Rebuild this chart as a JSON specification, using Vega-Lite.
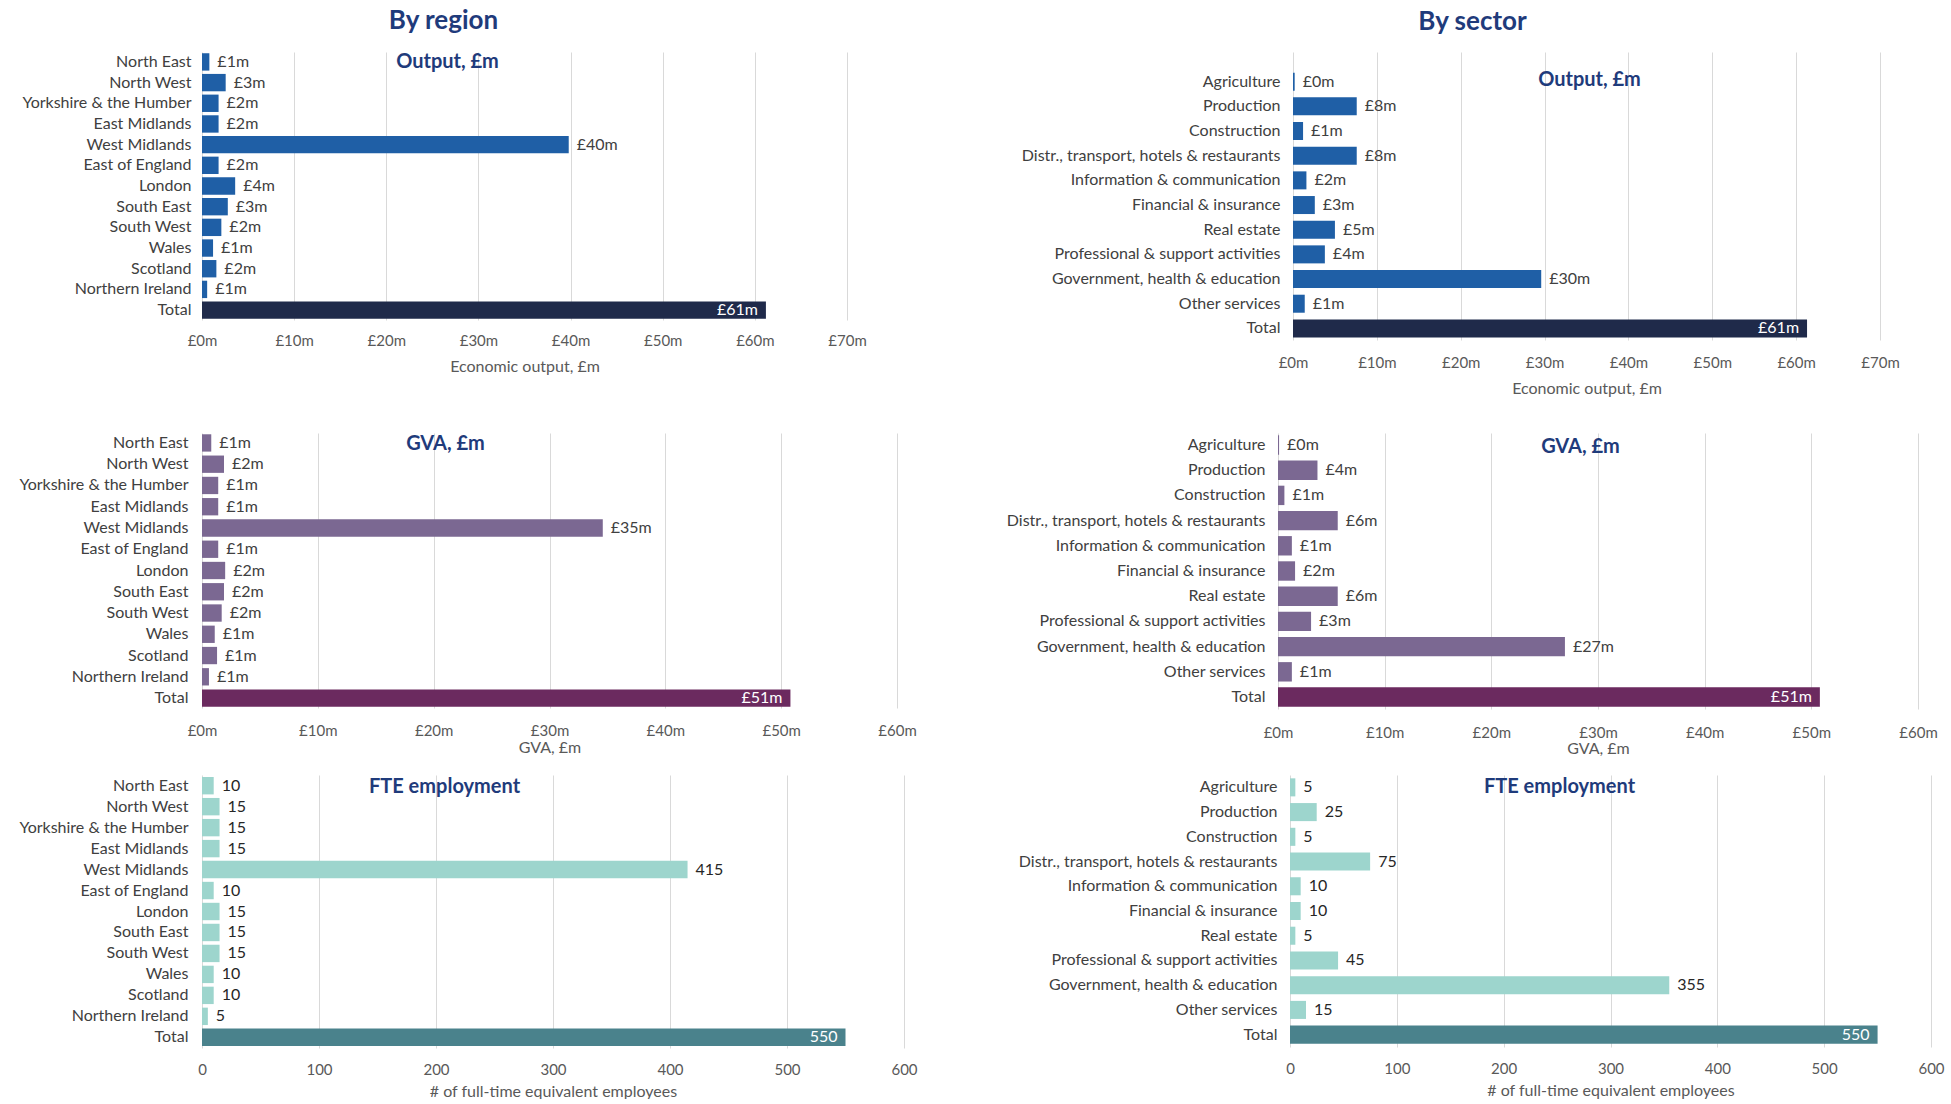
{
  "$schema": "https://vega.github.io/schema/vega-lite/v6.json",
  "padding": {"left": 18, "top": 8, "right": 5, "bottom": 0},
  "background": "white",
  "spacing": 19,
  "bounds": "full",
  "config": {
    "view": {"stroke": null},
    "font": "Lato",
    "axis": {"labelFont": "Lato", "titleFont": "Lato"},
    "title": {"font": "Lato"},
    "text": {"font": "Lato"}
  },
  "datasets": {
    "outReg": [
      {"cat": "North East", "v": 0.8, "lbl": "£1m"},
      {"cat": "North West", "v": 2.57, "lbl": "£3m"},
      {"cat": "Yorkshire & the Humber", "v": 1.8, "lbl": "£2m"},
      {"cat": "East Midlands", "v": 1.8, "lbl": "£2m"},
      {"cat": "West Midlands", "v": 39.8, "lbl": "£40m"},
      {"cat": "East of England", "v": 1.8, "lbl": "£2m"},
      {"cat": "London", "v": 3.6, "lbl": "£4m"},
      {"cat": "South East", "v": 2.8, "lbl": "£3m"},
      {"cat": "South West", "v": 2.1, "lbl": "£2m"},
      {"cat": "Wales", "v": 1.2, "lbl": "£1m"},
      {"cat": "Scotland", "v": 1.56, "lbl": "£2m"},
      {"cat": "Northern Ireland", "v": 0.56, "lbl": "£1m"},
      {"cat": "Total", "v": 61.2, "lbl": "£61m"}
    ],
    "outSec": [
      {"cat": "Agriculture", "v": 0.2, "lbl": "£0m"},
      {"cat": "Production", "v": 7.6, "lbl": "£8m"},
      {"cat": "Construction", "v": 1.2, "lbl": "£1m"},
      {"cat": "Distr., transport, hotels & restaurants", "v": 7.6, "lbl": "£8m"},
      {"cat": "Information & communication", "v": 1.6, "lbl": "£2m"},
      {"cat": "Financial & insurance", "v": 2.6, "lbl": "£3m"},
      {"cat": "Real estate", "v": 5.0, "lbl": "£5m"},
      {"cat": "Professional & support activities", "v": 3.8, "lbl": "£4m"},
      {"cat": "Government, health & education", "v": 29.6, "lbl": "£30m"},
      {"cat": "Other services", "v": 1.4, "lbl": "£1m"},
      {"cat": "Total", "v": 61.3, "lbl": "£61m"}
    ],
    "gvaReg": [
      {"cat": "North East", "v": 0.8, "lbl": "£1m"},
      {"cat": "North West", "v": 1.9, "lbl": "£2m"},
      {"cat": "Yorkshire & the Humber", "v": 1.4, "lbl": "£1m"},
      {"cat": "East Midlands", "v": 1.4, "lbl": "£1m"},
      {"cat": "West Midlands", "v": 34.6, "lbl": "£35m"},
      {"cat": "East of England", "v": 1.4, "lbl": "£1m"},
      {"cat": "London", "v": 2.0, "lbl": "£2m"},
      {"cat": "South East", "v": 1.9, "lbl": "£2m"},
      {"cat": "South West", "v": 1.7, "lbl": "£2m"},
      {"cat": "Wales", "v": 1.1, "lbl": "£1m"},
      {"cat": "Scotland", "v": 1.3, "lbl": "£1m"},
      {"cat": "Northern Ireland", "v": 0.6, "lbl": "£1m"},
      {"cat": "Total", "v": 50.8, "lbl": "£51m"}
    ],
    "gvaSec": [
      {"cat": "Agriculture", "v": 0.1, "lbl": "£0m"},
      {"cat": "Production", "v": 3.7, "lbl": "£4m"},
      {"cat": "Construction", "v": 0.6, "lbl": "£1m"},
      {"cat": "Distr., transport, hotels & restaurants", "v": 5.6, "lbl": "£6m"},
      {"cat": "Information & communication", "v": 1.3, "lbl": "£1m"},
      {"cat": "Financial & insurance", "v": 1.6, "lbl": "£2m"},
      {"cat": "Real estate", "v": 5.6, "lbl": "£6m"},
      {"cat": "Professional & support activities", "v": 3.1, "lbl": "£3m"},
      {"cat": "Government, health & education", "v": 26.9, "lbl": "£27m"},
      {"cat": "Other services", "v": 1.3, "lbl": "£1m"},
      {"cat": "Total", "v": 50.8, "lbl": "£51m"}
    ],
    "fteReg": [
      {"cat": "North East", "v": 10, "lbl": "10"},
      {"cat": "North West", "v": 15, "lbl": "15"},
      {"cat": "Yorkshire & the Humber", "v": 15, "lbl": "15"},
      {"cat": "East Midlands", "v": 15, "lbl": "15"},
      {"cat": "West Midlands", "v": 415, "lbl": "415"},
      {"cat": "East of England", "v": 10, "lbl": "10"},
      {"cat": "London", "v": 15, "lbl": "15"},
      {"cat": "South East", "v": 15, "lbl": "15"},
      {"cat": "South West", "v": 15, "lbl": "15"},
      {"cat": "Wales", "v": 10, "lbl": "10"},
      {"cat": "Scotland", "v": 10, "lbl": "10"},
      {"cat": "Northern Ireland", "v": 5, "lbl": "5"},
      {"cat": "Total", "v": 550, "lbl": "550"}
    ],
    "fteSec": [
      {"cat": "Agriculture", "v": 5, "lbl": "5"},
      {"cat": "Production", "v": 25, "lbl": "25"},
      {"cat": "Construction", "v": 5, "lbl": "5"},
      {"cat": "Distr., transport, hotels & restaurants", "v": 75, "lbl": "75"},
      {"cat": "Information & communication", "v": 10, "lbl": "10"},
      {"cat": "Financial & insurance", "v": 10, "lbl": "10"},
      {"cat": "Real estate", "v": 5, "lbl": "5"},
      {"cat": "Professional & support activities", "v": 45, "lbl": "45"},
      {"cat": "Government, health & education", "v": 355, "lbl": "355"},
      {"cat": "Other services", "v": 15, "lbl": "15"},
      {"cat": "Total", "v": 550, "lbl": "550"}
    ]
  },
  "vconcat": [
    {
      "spacing": 154,
      "bounds": "full",
      "align": "none",
      "hconcat": [
        {
          "width": 645, "height": 268,
          "data": {"name": "outReg"},
          "title": {"text": "By region", "anchor": "middle", "frame": "group", "dx": -81, "offset": -9, "baseline": "bottom", "fontSize": 26, "fontWeight": "bold", "color": "#1F3B7B"},
          "encoding": {"y": {"field": "cat", "type": "nominal", "sort": null, "scale": {"paddingInner": 0.16, "paddingOuter": 0.06}, "axis": {"title": null, "domain": false, "ticks": false, "labelPadding": 11, "labelFontSize": 16, "labelColor": "#404040", "labelLimit": 400}}},
          "layer": [
            {"mark": {"type": "bar"}, "encoding": {"x": {"field": "v", "type": "quantitative", "scale": {"domain": [0, 70], "nice": false}, "axis": {"orient": "bottom", "values": [0, 10, 20, 30, 40, 50, 60, 70], "labelExpr": "'£' + datum.value + 'm'", "labelFlush": false, "grid": true, "gridColor": "#D9D9D9", "domain": false, "ticks": false, "labelPadding": 13, "labelFontSize": 15, "labelColor": "#595959", "title": "Economic output, £m", "titleFontSize": 16, "titleFontWeight": "normal", "titleColor": "#595959", "titlePadding": 10}}, "color": {"condition": {"test": "datum.cat === 'Total'", "value": "#1F2A4A"}, "value": "#1F5FA6"}}},
            {"transform": [{"filter": "datum.cat !== 'Total'"}], "mark": {"type": "text", "align": "left", "dx": 8, "fontSize": 16, "color": "#404040"}, "encoding": {"x": {"field": "v", "type": "quantitative", "axis": {"orient": "top", "title": "Output, £m", "labels": false, "ticks": false, "domain": false, "grid": false, "titleX": 245, "titleY": 9, "titleAlign": "center", "titleBaseline": "middle", "titleFontSize": 20, "titleFontWeight": "bold", "titleColor": "#1F3B7B"}}, "text": {"field": "lbl"}}},
            {"transform": [{"filter": "datum.cat === 'Total'"}], "mark": {"type": "text", "align": "right", "dx": -8, "fontSize": 16, "color": "white"}, "encoding": {"x": {"field": "v", "type": "quantitative", "axis": null}, "text": {"field": "lbl"}}}
          ]
        },
        {
          "width": 587, "height": 288,
          "data": {"name": "outSec"},
          "title": {"text": "By sector", "anchor": "middle", "frame": "group", "dx": -114, "offset": -9, "baseline": "bottom", "fontSize": 26, "fontWeight": "bold", "color": "#1F3B7B"},
          "encoding": {"y": {"field": "cat", "type": "nominal", "sort": null, "scale": {"paddingInner": 0.27, "paddingOuter": 0.472, "align": 0.888}, "axis": {"title": null, "domain": false, "ticks": false, "labelPadding": 13, "labelFontSize": 16, "labelColor": "#404040", "labelLimit": 400}}},
          "layer": [
            {"mark": {"type": "bar"}, "encoding": {"x": {"field": "v", "type": "quantitative", "scale": {"domain": [0, 70], "nice": false}, "axis": {"orient": "bottom", "values": [0, 10, 20, 30, 40, 50, 60, 70], "labelExpr": "'£' + datum.value + 'm'", "labelFlush": false, "grid": true, "gridColor": "#D9D9D9", "domain": false, "ticks": false, "labelPadding": 15, "labelFontSize": 15, "labelColor": "#595959", "title": "Economic output, £m", "titleFontSize": 16, "titleFontWeight": "normal", "titleColor": "#595959", "titlePadding": 10}}, "color": {"condition": {"test": "datum.cat === 'Total'", "value": "#1F2A4A"}, "value": "#1F5FA6"}}},
            {"transform": [{"filter": "datum.cat !== 'Total'"}], "mark": {"type": "text", "align": "left", "dx": 8, "fontSize": 16, "color": "#404040"}, "encoding": {"x": {"field": "v", "type": "quantitative", "axis": {"orient": "top", "title": "Output, £m", "labels": false, "ticks": false, "domain": false, "grid": false, "titleX": 296, "titleY": 27, "titleAlign": "center", "titleBaseline": "middle", "titleFontSize": 20, "titleFontWeight": "bold", "titleColor": "#1F3B7B"}}, "text": {"field": "lbl"}}},
            {"transform": [{"filter": "datum.cat === 'Total'"}], "mark": {"type": "text", "align": "right", "dx": -8, "fontSize": 16, "color": "white"}, "encoding": {"x": {"field": "v", "type": "quantitative", "axis": null}, "text": {"field": "lbl"}}}
          ]
        }
      ]
    },
    {
      "spacing": 89,
      "bounds": "full",
      "align": "none",
      "hconcat": [
        {
          "width": 695, "height": 275,
          "data": {"name": "gvaReg"},
          "encoding": {"y": {"field": "cat", "type": "nominal", "sort": null, "scale": {"paddingInner": 0.185, "paddingOuter": 0.06}, "axis": {"title": null, "domain": false, "ticks": false, "labelPadding": 14, "labelFontSize": 16, "labelColor": "#404040", "labelLimit": 400}}},
          "layer": [
            {"mark": {"type": "bar"}, "encoding": {"x": {"field": "v", "type": "quantitative", "scale": {"domain": [0, 60], "nice": false}, "axis": {"orient": "bottom", "values": [0, 10, 20, 30, 40, 50, 60], "labelExpr": "'£' + datum.value + 'm'", "labelFlush": false, "grid": true, "gridColor": "#D9D9D9", "domain": false, "ticks": false, "labelPadding": 15, "labelFontSize": 15, "labelColor": "#595959", "title": "GVA, £m", "titleFontSize": 16, "titleFontWeight": "normal", "titleColor": "#595959", "titlePadding": 1}}, "color": {"condition": {"test": "datum.cat === 'Total'", "value": "#6B2A5F"}, "value": "#7B6892"}}},
            {"transform": [{"filter": "datum.cat !== 'Total'"}], "mark": {"type": "text", "align": "left", "dx": 8, "fontSize": 16, "color": "#404040"}, "encoding": {"x": {"field": "v", "type": "quantitative", "axis": {"orient": "top", "title": "GVA, £m", "labels": false, "ticks": true, "tickSize": 18, "tickOpacity": 0, "domain": false, "grid": false, "titleX": 243, "titleY": 10, "titleAlign": "center", "titleBaseline": "middle", "titleFontSize": 20, "titleFontWeight": "bold", "titleColor": "#1F3B7B"}}, "text": {"field": "lbl"}}},
            {"transform": [{"filter": "datum.cat === 'Total'"}], "mark": {"type": "text", "align": "right", "dx": -8, "fontSize": 16, "color": "white"}, "encoding": {"x": {"field": "v", "type": "quantitative", "axis": null}, "text": {"field": "lbl"}}}
          ]
        },
        {
          "width": 640, "height": 276,
          "data": {"name": "gvaSec"},
          "encoding": {"y": {"field": "cat", "type": "nominal", "sort": null, "scale": {"paddingInner": 0.23, "paddingOuter": 0.09}, "axis": {"title": null, "domain": false, "ticks": false, "labelPadding": 13, "labelFontSize": 16, "labelColor": "#404040", "labelLimit": 400}}},
          "layer": [
            {"mark": {"type": "bar"}, "encoding": {"x": {"field": "v", "type": "quantitative", "scale": {"domain": [0, 60], "nice": false}, "axis": {"orient": "bottom", "values": [0, 10, 20, 30, 40, 50, 60], "labelExpr": "'£' + datum.value + 'm'", "labelFlush": false, "grid": true, "gridColor": "#D9D9D9", "domain": false, "ticks": false, "labelPadding": 16, "labelFontSize": 15, "labelColor": "#595959", "title": "GVA, £m", "titleFontSize": 16, "titleFontWeight": "normal", "titleColor": "#595959", "titlePadding": 0}}, "color": {"condition": {"test": "datum.cat === 'Total'", "value": "#6B2A5F"}, "value": "#7B6892"}}},
            {"transform": [{"filter": "datum.cat !== 'Total'"}], "mark": {"type": "text", "align": "left", "dx": 8, "fontSize": 16, "color": "#404040"}, "encoding": {"x": {"field": "v", "type": "quantitative", "axis": {"orient": "top", "title": "GVA, £m", "labels": false, "ticks": true, "tickSize": 18, "tickOpacity": 0, "domain": false, "grid": false, "titleX": 302, "titleY": 13, "titleAlign": "center", "titleBaseline": "middle", "titleFontSize": 20, "titleFontWeight": "bold", "titleColor": "#1F3B7B"}}, "text": {"field": "lbl"}}},
            {"transform": [{"filter": "datum.cat === 'Total'"}], "mark": {"type": "text", "align": "right", "dx": -8, "fontSize": 16, "color": "white"}, "encoding": {"x": {"field": "v", "type": "quantitative", "axis": null}, "text": {"field": "lbl"}}}
          ]
        }
      ]
    },
    {
      "spacing": 100,
      "bounds": "full",
      "align": "none",
      "hconcat": [
        {
          "width": 702, "height": 273,
          "data": {"name": "fteReg"},
          "encoding": {"y": {"field": "cat", "type": "nominal", "sort": null, "scale": {"paddingInner": 0.17, "paddingOuter": 0.095}, "axis": {"title": null, "domain": false, "ticks": false, "labelPadding": 14, "labelFontSize": 16, "labelColor": "#404040", "labelLimit": 400}}},
          "layer": [
            {"mark": {"type": "bar"}, "encoding": {"x": {"field": "v", "type": "quantitative", "scale": {"domain": [0, 600], "nice": false}, "axis": {"orient": "bottom", "values": [0, 100, 200, 300, 400, 500, 600], "format": "d", "labelFlush": false, "grid": true, "gridColor": "#D9D9D9", "domain": false, "ticks": false, "labelPadding": 14, "labelFontSize": 15, "labelColor": "#595959", "title": "# of full-time equivalent employees", "titleFontSize": 16, "titleFontWeight": "normal", "titleColor": "#595959", "titlePadding": 6}}, "color": {"condition": {"test": "datum.cat === 'Total'", "value": "#4A828C"}, "value": "#9DD5CD"}}},
            {"transform": [{"filter": "datum.cat !== 'Total'"}], "mark": {"type": "text", "align": "left", "dx": 8, "fontSize": 16, "color": "#262626"}, "encoding": {"x": {"field": "v", "type": "quantitative", "axis": {"orient": "top", "title": "FTE employment", "labels": false, "ticks": false, "domain": false, "grid": false, "titleX": 242, "titleY": 11, "titleAlign": "center", "titleBaseline": "middle", "titleFontSize": 20, "titleFontWeight": "bold", "titleColor": "#1F3B7B"}}, "text": {"field": "lbl"}}},
            {"transform": [{"filter": "datum.cat === 'Total'"}], "mark": {"type": "text", "align": "right", "dx": -8, "fontSize": 16, "color": "white"}, "encoding": {"x": {"field": "v", "type": "quantitative", "axis": null}, "text": {"field": "lbl"}}}
          ]
        },
        {
          "width": 641, "height": 272,
          "data": {"name": "fteSec"},
          "encoding": {"y": {"field": "cat", "type": "nominal", "sort": null, "scale": {"paddingInner": 0.27, "paddingOuter": 0.135}, "axis": {"title": null, "domain": false, "ticks": false, "labelPadding": 13, "labelFontSize": 16, "labelColor": "#404040", "labelLimit": 400}}},
          "layer": [
            {"mark": {"type": "bar"}, "encoding": {"x": {"field": "v", "type": "quantitative", "scale": {"domain": [0, 600], "nice": false}, "axis": {"orient": "bottom", "values": [0, 100, 200, 300, 400, 500, 600], "format": "d", "labelFlush": false, "grid": true, "gridColor": "#D9D9D9", "domain": false, "ticks": false, "labelPadding": 14, "labelFontSize": 15, "labelColor": "#595959", "title": "# of full-time equivalent employees", "titleFontSize": 16, "titleFontWeight": "normal", "titleColor": "#595959", "titlePadding": 6}}, "color": {"condition": {"test": "datum.cat === 'Total'", "value": "#4A828C"}, "value": "#9DD5CD"}}},
            {"transform": [{"filter": "datum.cat !== 'Total'"}], "mark": {"type": "text", "align": "left", "dx": 8, "fontSize": 16, "color": "#262626"}, "encoding": {"x": {"field": "v", "type": "quantitative", "axis": {"orient": "top", "title": "FTE employment", "labels": false, "ticks": false, "domain": false, "grid": false, "titleX": 269, "titleY": 11, "titleAlign": "center", "titleBaseline": "middle", "titleFontSize": 20, "titleFontWeight": "bold", "titleColor": "#1F3B7B"}}, "text": {"field": "lbl"}}},
            {"transform": [{"filter": "datum.cat === 'Total'"}], "mark": {"type": "text", "align": "right", "dx": -8, "fontSize": 16, "color": "white"}, "encoding": {"x": {"field": "v", "type": "quantitative", "axis": null}, "text": {"field": "lbl"}}}
          ]
        }
      ]
    }
  ]
}
